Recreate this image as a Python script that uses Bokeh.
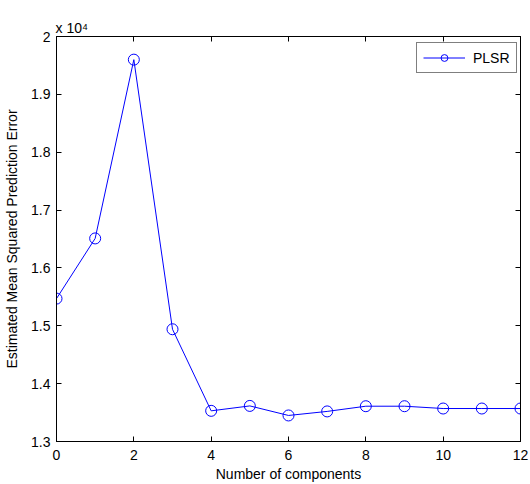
from bokeh.plotting import figure
from bokeh.models import Range1d, LinearAxis, FixedTicker, Legend, LegendItem
from bokeh.embed import file_html
from bokeh.resources import INLINE

components = list(range(13))
mspe = [15470, 16510, 19600, 14940, 13530, 13615, 13450, 13520, 13610, 13610, 13570, 13570, 13570]
x_ticks = [0, 2, 4, 6, 8, 10, 12]
y_ticks = [13000, 14000, 15000, 16000, 17000, 18000, 19000, 20000]
y_tick_labels = ["1.3", "1.4", "1.5", "1.6", "1.7", "1.8", "1.9", "2"]

FONT = "Liberation Sans"
BLUE = "#0000FF"

p = figure(width=530, height=484, output_backend="svg", toolbar_location=None,
           x_range=Range1d(0, 12), y_range=Range1d(13000, 20000),
           min_border_left=56, min_border_right=10, min_border_top=36, min_border_bottom=43)
p.background_fill_color = "white"
p.border_fill_color = "white"
p.outline_line_color = "black"
p.grid.visible = False

p.title.text = "x 10\u2074"
p.title.align = "left"
p.title.text_font = FONT
p.title.text_font_size = "14px"
p.title.text_font_style = "normal"
p.title.text_color = "black"
p.title.offset = -1
p.title.standoff = 1

line = p.line(components, mspe, line_color=BLUE, line_width=1)
pts = p.scatter(components, mspe, marker="circle", size=11, line_color=BLUE,
                fill_color=None, line_width=1)

def style(ax):
    ax.axis_line_color = "black"
    ax.major_tick_line_color = "black"
    ax.major_tick_in = 5
    ax.major_tick_out = 0
    ax.minor_tick_line_color = None
    ax.major_label_text_font = FONT
    ax.major_label_text_font_size = "14px"
    ax.major_label_text_color = "black"
    ax.axis_label_text_font = FONT
    ax.axis_label_text_font_size = "14px"
    ax.axis_label_text_font_style = "normal"
    ax.axis_label_text_color = "black"

xa = p.xaxis[0]
xa.ticker = FixedTicker(ticks=x_ticks)
style(xa)
xa.axis_label = "Number of components"
xa.major_label_standoff = 8
xa.axis_label_standoff = 3

ya = p.yaxis[0]
ya.ticker = FixedTicker(ticks=y_ticks)
style(ya)
ya.major_label_overrides = {t: s for t, s in zip(y_ticks, y_tick_labels)}
ya.axis_label = "Estimated Mean Squared Prediction Error"
ya.major_label_standoff = 6
ya.axis_label_standoff = 8

def tick_only(ax):
    ax.axis_line_color = "black"
    ax.major_tick_line_color = None
    ax.minor_tick_line_color = "black"
    ax.minor_tick_in = 5
    ax.minor_tick_out = 0
    ax.major_tick_in = 0
    ax.major_tick_out = 0

top = LinearAxis(ticker=FixedTicker(ticks=[], minor_ticks=x_ticks))
tick_only(top)
p.add_layout(top, "above")

right = LinearAxis(ticker=FixedTicker(ticks=[], minor_ticks=y_ticks))
tick_only(right)
p.add_layout(right, "right")

legend = Legend(items=[LegendItem(label="PLSR", renderers=[line, pts])],
                location=(360, 368), orientation="vertical")
legend.border_line_color = "black"
legend.border_line_width = 1
legend.background_fill_color = "white"
legend.background_fill_alpha = 1
legend.label_text_font = FONT
legend.label_text_font_size = "14px"
legend.label_text_color = "black"
legend.glyph_width = 42
legend.glyph_height = 17
legend.label_height = 17
legend.padding = 6
legend.label_standoff = 8
legend.spacing = 0
legend.margin = 0
p.add_layout(legend, "center")

open("out.html", "w").write(file_html(p, INLINE))
